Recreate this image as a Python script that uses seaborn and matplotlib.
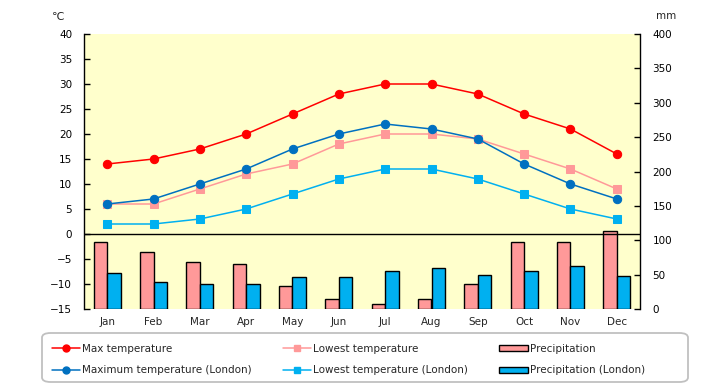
import numpy as np
import pandas as pd
import matplotlib
matplotlib.use("Agg")
import matplotlib.pyplot as plt
import seaborn as sns
from matplotlib.lines import Line2D
from matplotlib.patches import Patch, FancyBboxPatch

months = ["Jan", "Feb", "Mar", "Apr", "May", "Jun", "Jul", "Aug", "Sep", "Oct", "Nov", "Dec"]
max_temp = [14, 15, 17, 20, 24, 28, 30, 30, 28, 24, 21, 16]
low_temp = [6, 6, 9, 12, 14, 18, 20, 20, 19, 16, 13, 9]
max_temp_london = [6, 7, 10, 13, 17, 20, 22, 21, 19, 14, 10, 7]
low_temp_london = [2, 2, 3, 5, 8, 11, 13, 13, 11, 8, 5, 3]
precip = [98, 83, 69, 66, 34, 15, 8, 14, 37, 98, 98, 114]
precip_london = [53, 40, 37, 37, 46, 46, 56, 59, 50, 56, 63, 48]

temp_ticks = list(range(-15, 41, 5))
precip_ticks = list(range(0, 401, 50))

sns.set_style("white")
plt.rcParams["font.family"] = ["DejaVu Sans"]
plt.rcParams["font.size"] = 7.5

fig = plt.figure(figsize=(7.2, 3.85), dpi=100)
ax = fig.add_axes([84 / 720, 1 - 309 / 385, 556 / 720, 275 / 385])
ax2 = ax.twinx()
ax.set_zorder(2)
ax2.set_zorder(1)
ax.patch.set_visible(False)
ax2.patch.set_visible(True)
ax2.set_facecolor("#FFFFCC")

# temperature lines
line_specs = [
    (max_temp, "#FF0000", "o", 6.0),
    (low_temp, "#FF9999", "s", 5.5),
    (max_temp_london, "#0070C0", "o", 6.0),
    (low_temp_london, "#00B0F0", "s", 5.5),
]
for vals, col, mk, ms in line_specs:
    sns.lineplot(x=months, y=vals, sort=False, color=col, marker=mk, markersize=ms,
                 markeredgecolor=col, linewidth=1.1, ax=ax, zorder=3)

ax.axhline(0, color="black", lw=1, zorder=2)

# precipitation bars
df_bar = pd.DataFrame({
    "month": months * 2,
    "precip": precip + precip_london,
    "series": ["Precipitation"] * 12 + ["Precipitation (London)"] * 12,
})
sns.barplot(data=df_bar, x="month", y="precip", hue="series", order=months,
            hue_order=["Precipitation", "Precipitation (London)"],
            palette=["#FF9999", "#00B0F0"], width=0.58, gap=0, saturation=1,
            edgecolor="black", linewidth=1, errorbar=None, legend=False, ax=ax2)

ax.set_xlim(-0.5, 11.5)
ax2.set_xlim(-0.5, 11.5)
ax.set_ylim(-15, 40)
ax.set_yticks(temp_ticks)
ax2.set_ylim(0, 400)
ax2.set_yticks(precip_ticks)
ax.set_xlabel("")
ax.set_ylabel("")
ax2.set_xlabel("")
ax2.set_ylabel("")

for a in (ax, ax2):
    a.grid(False)
    for s in ("top", "bottom"):
        a.spines[s].set_visible(False)
ax.spines["right"].set_visible(False)
ax2.spines["left"].set_visible(False)
ax.spines["left"].set_color("black")
ax.spines["left"].set_linewidth(1)
ax2.spines["right"].set_color("black")
ax2.spines["right"].set_linewidth(1)

ax.tick_params(axis="y", direction="in", length=4, width=1, pad=8.5, labelsize=7.5, left=True, colors="black")
ax.tick_params(axis="x", length=0, pad=6, labelsize=7.5)
ax2.tick_params(axis="y", direction="in", length=4, width=1, pad=9, labelsize=7.5, right=True, colors="black")

fig.text(58 / 720, 1 - 17 / 385, "℃", ha="center", va="center", fontsize=8)
fig.text(666 / 720, 1 - 16 / 385, "mm", ha="center", va="center", fontsize=7.5)

# legend frame (rounded box)
frame = FancyBboxPatch((42 / 720, 3 / 385), 646 / 720, 49 / 385,
                       boxstyle="round,pad=0,rounding_size=0.012",
                       transform=fig.transFigure, facecolor="white",
                       edgecolor="#C0C0C0", linewidth=1.3, zorder=0)
fig.patches.append(frame)

handles = [
    Line2D([0], [0], color="#FF0000", marker="o", markersize=5, lw=1.1),
    Line2D([0], [0], color="#0070C0", marker="o", markersize=5, lw=1.1),
    Line2D([0], [0], color="#FF9999", marker="s", markersize=5, lw=1.1),
    Line2D([0], [0], color="#00B0F0", marker="s", markersize=5, lw=1.1),
    Patch(facecolor="#FF9999", edgecolor="black", lw=1),
    Patch(facecolor="#00B0F0", edgecolor="black", lw=1),
]
labels = ["Max temperature", "Maximum temperature (London)", "Lowest temperature",
          "Lowest temperature (London)", "Precipitation", "Precipitation (London)"]
leg = fig.legend(handles, labels, ncol=3, loc="center left",
                 bbox_to_anchor=(52 / 720, 1 - 359.5 / 385),
                 frameon=False, fontsize=7.5, handlelength=2.7, handleheight=0.5,
                 labelspacing=1.1, borderaxespad=0, borderpad=0,
                 handletextpad=0.2, columnspacing=3.0)

fig.savefig("out.png", dpi=100)
